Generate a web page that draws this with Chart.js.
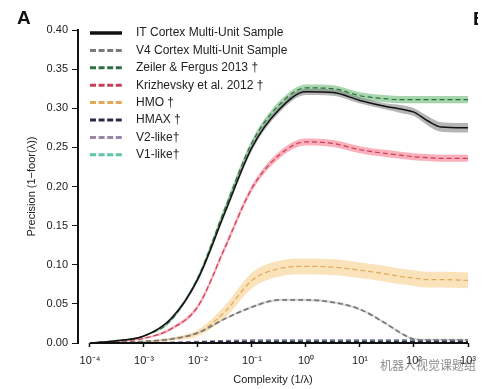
<!DOCTYPE html>
<html>
<head>
<meta charset="utf-8">
<script src="https://cdn.jsdelivr.net/npm/chart.js@4/dist/chart.umd.min.js"></script>
<style>
  body { margin: 0; background: #fff; }
  #wrap { position: relative; width: 489px; height: 389px; overflow: hidden; }
  #panelA { position: absolute; left: 17px; top: 7px; font: bold 19px "Liberation Sans", Arial, sans-serif; color: #111; }
  #panelB { position: absolute; left: 473px; top: 8px; width: 5px; overflow: hidden; font: bold 19px "Liberation Sans", Arial, sans-serif; color: #111; }
  #mark { position: absolute; left: 380px; top: 356px; font: 12px "Noto Sans CJK SC", sans-serif; color: rgba(90,90,90,0.7); }
</style>
</head>
<body>
<div id="wrap">
  <canvas id="precisionChart" width="489" height="389"></canvas>
  <div id="panelA">A</div>
  <div id="panelB">B</div>
  <div id="mark">机器人视觉课题组</div>
</div>
<script>
// complexity values (1/lambda), about every half decade
const complexity = [1e-4, 3.16e-4, 1e-3, 3.16e-3, 1e-2, 3.16e-2, 0.1, 0.316, 1, 3.16, 10, 31.6, 56.2, 100, 178, 316, 1000];
const xTicks = [1e-4, 1e-3, 1e-2, 1e-1, 1, 10, 100, 1000];
const xTickLabels = ['10⁻⁴', '10⁻³', '10⁻²', '10⁻¹', '10⁰', '10¹', '10²', '10³'];

// precision curves
const itCortex   = [0.000, 0.003, 0.009, 0.031, 0.082, 0.167, 0.250, 0.298, 0.321, 0.320, 0.310, 0.302, 0.299, 0.295, 0.284, 0.276, 0.275];
const v4Cortex   = [0.000, 0.001, 0.002, 0.005, 0.013, 0.031, 0.046, 0.055, 0.055, 0.052, 0.043, 0.024, 0.013, 0.005, 0.004, 0.004, 0.004];
const zeiler     = [0.000, 0.003, 0.009, 0.029, 0.084, 0.172, 0.256, 0.304, 0.326, 0.325, 0.316, 0.312, 0.311, 0.311, 0.311, 0.311, 0.311];
const krizhevsky = [0.000, 0.002, 0.006, 0.018, 0.047, 0.122, 0.198, 0.240, 0.257, 0.255, 0.247, 0.242, 0.240, 0.238, 0.237, 0.236, 0.236];
const hmo        = [0.000, 0.001, 0.002, 0.005, 0.013, 0.040, 0.080, 0.095, 0.098, 0.097, 0.093, 0.088, 0.085, 0.083, 0.081, 0.081, 0.080];
const hmax       = [0.000, 0.000, 0.000, 0.000, 0.001, 0.002, 0.002, 0.002, 0.002, 0.002, 0.002, 0.002, 0.002, 0.002, 0.002, 0.002, 0.002];
const v2like     = [0.000, 0.000, 0.000, 0.001, 0.002, 0.003, 0.004, 0.004, 0.004, 0.004, 0.004, 0.004, 0.004, 0.004, 0.004, 0.004, 0.004];
const v1like     = [0.000, 0.000, 0.000, 0.000, 0.001, 0.002, 0.003, 0.003, 0.003, 0.003, 0.003, 0.003, 0.003, 0.003, 0.003, 0.003, 0.003];

// half width of the shaded error bands, per point
const itBand     = [0.000, 0.001, 0.001, 0.002, 0.003, 0.004, 0.004, 0.004, 0.004, 0.004, 0.004, 0.004, 0.005, 0.005, 0.006, 0.006, 0.006];
const v4Band     = [0.000, 0.000, 0.001, 0.001, 0.001, 0.001, 0.0015, 0.0015, 0.0015, 0.0015, 0.0015, 0.0015, 0.0015, 0.0015, 0.0015, 0.0015, 0.0015];
const zeilerBand = [0.000, 0.001, 0.001, 0.002, 0.003, 0.004, 0.004, 0.0045, 0.0045, 0.0045, 0.0045, 0.0045, 0.0045, 0.0045, 0.0045, 0.0045, 0.0045];
const krizBand   = [0.000, 0.001, 0.001, 0.002, 0.003, 0.004, 0.004, 0.0045, 0.0045, 0.0045, 0.0045, 0.0045, 0.0045, 0.0045, 0.0045, 0.0045, 0.0045];
const hmoBand    = [0.000, 0.000, 0.001, 0.002, 0.004, 0.008, 0.010, 0.010, 0.010, 0.010, 0.010, 0.010, 0.010, 0.010, 0.010, 0.010, 0.010];

const yTicks = [0, 0.05, 0.10, 0.15, 0.20, 0.25, 0.30, 0.35, 0.40];

const FONT = '"Liberation Sans", Arial, sans-serif';
Chart.defaults.font.family = FONT;
Chart.defaults.font.size = 11;
Chart.defaults.color = '#222';

function points(vals) {
    return complexity.map((c, i) => ({ x: c, y: vals[i] }));
}

function lineSet(label, vals, color, dash, width) {
    return {
        label: label,
        data: points(vals),
        borderColor: color,
        borderWidth: width,
        borderDash: dash,
        pointRadius: 0,
        fill: false,
        cubicInterpolationMode: 'monotone',
        inLegend: true
    };
}

// two datasets, the upper one fills down to the lower one
function bandSets(vals, half, color) {
    return [
        { label: '', data: points(vals.map((v, i) => Math.max(0, v - half[i]))), borderWidth: 0, pointRadius: 0, fill: false, cubicInterpolationMode: 'monotone' },
        { label: '', data: points(vals.map((v, i) => v + half[i])), borderWidth: 0, pointRadius: 0, fill: '-1', backgroundColor: color, cubicInterpolationMode: 'monotone' }
    ];
}

const datasets = [
    lineSet('IT Cortex Multi-Unit Sample', itCortex, '#111111', [], 1.5),
    lineSet('V4 Cortex Multi-Unit Sample', v4Cortex, '#7a7a7a', [5, 3], 1.8),
    lineSet('Zeiler & Fergus 2013 †', zeiler, '#2d6e45', [5, 3], 1.2),
    lineSet('Krizhevsky et al. 2012 †', krizhevsky, '#c8405a', [5, 3], 1.2),
    lineSet('HMO †', hmo, '#e3a85a', [5, 3], 1.2),
    lineSet('HMAX †', hmax, '#262b45', [5, 3], 1.5),
    lineSet('V2-like†', v2like, '#9c86a8', [5, 3], 1.5),
    lineSet('V1-like†', v1like, '#5cc4a8', [5, 3], 1.5)
].concat(
    bandSets(itCortex, itBand, 'rgba(120,120,120,0.55)'),
    bandSets(v4Cortex, v4Band, 'rgba(150,150,150,0.35)'),
    bandSets(zeiler, zeilerBand, 'rgba(95,180,105,0.55)'),
    bandSets(krizhevsky, krizBand, 'rgba(245,110,130,0.55)'),
    bandSets(hmo, hmoBand, 'rgba(246,200,120,0.5)')
);

// x axis line only runs from 10^-4 to 10^3 (offset from the y axis)
const xAxisLine = {
    id: 'xAxisLine',
    afterDatasetsDraw(chart) {
        const ctx = chart.ctx;
        const x = chart.scales.x;
        const y = chart.chartArea.bottom;
        ctx.save();
        ctx.strokeStyle = '#111';
        ctx.lineWidth = 2;
        ctx.beginPath();
        ctx.moveTo(x.getPixelForValue(xTicks[0]), y);
        ctx.lineTo(x.getPixelForValue(xTicks[xTicks.length - 1]), y);
        ctx.stroke();
        ctx.restore();
    }
};

// legend drawn inside the plot, top left
const plotLegend = {
    id: 'plotLegend',
    afterDraw(chart) {
        const ctx = chart.ctx;
        const x0 = chart.scales.x.getPixelForValue(xTicks[0]);
        let y = chart.chartArea.top + 3;
        ctx.save();
        ctx.font = '12px ' + FONT;
        ctx.textBaseline = 'middle';
        chart.data.datasets.forEach(ds => {
            if (!ds.inLegend) return;
            ctx.strokeStyle = ds.borderColor;
            ctx.lineWidth = ds.borderDash.length ? 3 : 3.5;
            ctx.setLineDash(ds.borderDash.length ? [6, 2.6] : []);
            ctx.beginPath();
            ctx.moveTo(x0, y);
            ctx.lineTo(x0 + 32, y);
            ctx.stroke();
            ctx.fillStyle = '#222';
            ctx.fillText(ds.label, x0 + 46, y);
            y += 17.4;
        });
        ctx.restore();
    }
};

new Chart(document.getElementById('precisionChart'), {
    type: 'line',
    data: { datasets: datasets },
    options: {
        responsive: false,
        animation: false,
        devicePixelRatio: 1,
        layout: { padding: { left: 0, top: 30, right: 21, bottom: 0 } },
        plugins: {
            legend: { display: false },
            tooltip: { enabled: false },
            filler: { propagate: false }
        },
        scales: {
            x: {
                type: 'logarithmic',
                min: Math.pow(10, -4.222),
                max: 1000,
                afterFit: s => { s.height = 46; },
                afterBuildTicks: s => { s.ticks = xTicks.map(v => ({ value: v })); },
                border: { display: false },
                grid: { drawOnChartArea: false, tickLength: 4, tickColor: '#111', tickWidth: 1.5 },
                ticks: {
                    padding: 7,
                    maxRotation: 0,
                    autoSkip: false,
                    color: '#222',
                    callback: v => {
                        const i = xTicks.indexOf(v);
                        return i >= 0 ? xTickLabels[i] : '';
                    }
                },
                title: { display: true, text: 'Complexity (1/λ)', color: '#222', font: { size: 11 }, padding: { top: 0, bottom: 2 } }
            },
            y: {
                min: 0,
                max: 0.40,
                afterFit: s => { s.width = 78; },
                afterBuildTicks: s => { s.ticks = yTicks.map(v => ({ value: v })); },
                border: { display: true, color: '#111', width: 2 },
                grid: { drawOnChartArea: false, tickLength: 6, tickColor: '#111', tickWidth: 1 },
                ticks: { padding: 4, color: '#222', callback: v => v.toFixed(2) },
                title: { display: true, text: 'Precision (1−foor(λ))', color: '#222', font: { size: 11 }, padding: { top: 25, bottom: 0 } }
            }
        }
    },
    plugins: [xAxisLine, plotLegend]
});
</script>
</body>
</html>
